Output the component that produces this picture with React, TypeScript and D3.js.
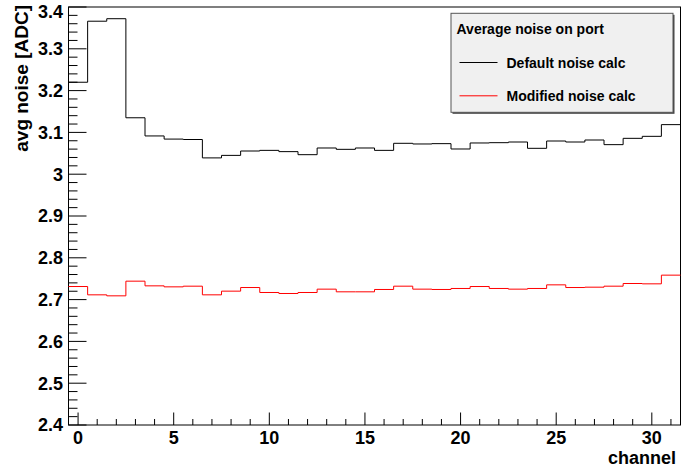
import React from "react";
import * as d3 from "d3";

// Per-channel average noise (ADC counts), channels 0..31
const channels = d3.range(32);
const defaultNoise = [
  3.22, 3.366, 3.372, 3.135, 3.0915, 3.084, 3.083, 3.039, 3.045, 3.0555, 3.057,
  3.054, 3.0467, 3.0627, 3.0595, 3.0627, 3.057, 3.0739, 3.0723, 3.0731, 3.0603,
  3.0747, 3.0754, 3.077, 3.0619, 3.0794, 3.077, 3.0818, 3.0707, 3.0858, 3.0906,
  3.1186,
];
const modifiedNoise = [
  2.7313, 2.7114, 2.709, 2.7441, 2.7329, 2.7305, 2.7321, 2.7114, 2.7202, 2.7289,
  2.717, 2.7146, 2.717, 2.725, 2.7186, 2.7186, 2.7242, 2.7321, 2.725, 2.7242,
  2.7266, 2.7313, 2.7266, 2.725, 2.7266, 2.7353, 2.7289, 2.7297, 2.7321, 2.7385,
  2.7377, 2.7585,
];
const xMajorTicks = [0, 5, 10, 15, 20, 25, 30];
const yMajorTicks = [2.4, 2.5, 2.6, 2.7, 2.8, 2.9, 3, 3.1, 3.2, 3.3, 3.4];
const legendTitle = "Average noise on port";
const seriesNames = ["Default noise calc", "Modified noise calc"];

const W = 684;
const H = 473;
const frame = { left: 68.5, right: 680.5, top: 7, bottom: 425 };
const FONT = "'Liberation Sans', Arial, Helvetica, sans-serif";

export default function App() {
  const x = d3.scaleLinear().domain([-0.5, 31.5]).range([frame.left, frame.right]);
  const y = d3.scaleLinear().domain([2.4, 3.4]).range([frame.bottom, frame.top]);

  const stepLine = d3
    .line<[number, number]>()
    .x((d) => x(d[0]))
    .y((d) => y(d[1]));
  const histPath = (vals: number[]) =>
    stepLine(
      channels.flatMap((c) => [
        [c - 0.5, vals[c]] as [number, number],
        [c + 0.5, vals[c]] as [number, number],
      ])
    ) as string;

  const xMinor = d3.range(0, 32).filter((v) => !xMajorTicks.includes(v));
  const yMinor = d3
    .range(0, 51)
    .map((i) => 2.4 + i * 0.02)
    .filter((_, i) => i % 5 !== 0);

  const lg = { x: 451, y: 13.3, w: 222, h: 99 };

  // keep the topmost label inside the canvas
  const labelY = (t: number) => Math.max(y(t), 11.5);

  return (
    <svg
      width={W}
      height={H}
      style={{ position: "absolute", left: 0, top: 0, background: "#fff" }}
      fontFamily={FONT}
    >
      <rect x={0} y={0} width={W} height={H} fill="#fff" />
      {/* frame */}
      <rect
        x={frame.left}
        y={frame.top}
        width={frame.right - frame.left}
        height={frame.bottom - frame.top}
        fill="none"
        stroke="#000"
        strokeWidth={1}
      />

      {/* histograms */}
      <path d={histPath(defaultNoise)} fill="none" stroke="#000" strokeWidth={1} />
      <path d={histPath(modifiedNoise)} fill="none" stroke="#ff0000" strokeWidth={1} />

      {/* y axis ticks */}
      {yMajorTicks.map((t) => (
        <g key={"ym" + t}>
          <line x1={frame.left} x2={frame.left + 18} y1={y(t)} y2={y(t)} stroke="#000" />
          <text
            x={63}
            y={labelY(t)}
            dy="0.36em"
            textAnchor="end"
            fontSize={18}
            fontWeight="bold"
          >
            {d3.format("~g")(t)}
          </text>
        </g>
      ))}
      {yMinor.map((t, i) => (
        <line
          key={"yn" + i}
          x1={frame.left}
          x2={frame.left + 9}
          y1={y(t)}
          y2={y(t)}
          stroke="#000"
        />
      ))}

      {/* x axis ticks */}
      {xMajorTicks.map((t) => (
        <g key={"xm" + t}>
          <line x1={x(t)} x2={x(t)} y1={frame.bottom} y2={frame.bottom - 12.5} stroke="#000" />
          <text x={x(t)} y={443.5} textAnchor="middle" fontSize={18} fontWeight="bold">
            {t}
          </text>
        </g>
      ))}
      {xMinor.map((t) => (
        <line
          key={"xn" + t}
          x1={x(t)}
          x2={x(t)}
          y1={frame.bottom}
          y2={frame.bottom - 6}
          stroke="#000"
        />
      ))}

      {/* axis titles */}
      <text x={676} y={464} textAnchor="end" fontSize={18} fontWeight="bold">
        channel
      </text>
      <text
        transform="translate(28,5) rotate(-90)"
        textAnchor="end"
        fontSize={19}
        fontWeight="bold"
      >
        avg noise [ADC]
      </text>

      {/* legend */}
      <rect x={lg.x + 1.5} y={lg.y + 1.5} width={lg.w} height={lg.h} fill="#444" />
      <rect
        x={lg.x}
        y={lg.y}
        width={lg.w}
        height={lg.h}
        fill="#f0f0f0"
        stroke="#555"
        strokeWidth={1}
      />
      <text x={456.5} y={33.5} fontSize={14} fontWeight="bold">
        {legendTitle}
      </text>
      {seriesNames.map((name, i) => {
        const ly = 62.5 + i * 33.3;
        return (
          <g key={name}>
            <line
              x1={459.5}
              x2={497.5}
              y1={ly}
              y2={ly}
              stroke={i === 0 ? "#000" : "#ff0000"}
              strokeWidth={1}
            />
            <text x={506.5} y={ly + 5.5} fontSize={14} fontWeight="bold">
              {name}
            </text>
          </g>
        );
      })}
    </svg>
  );
}
